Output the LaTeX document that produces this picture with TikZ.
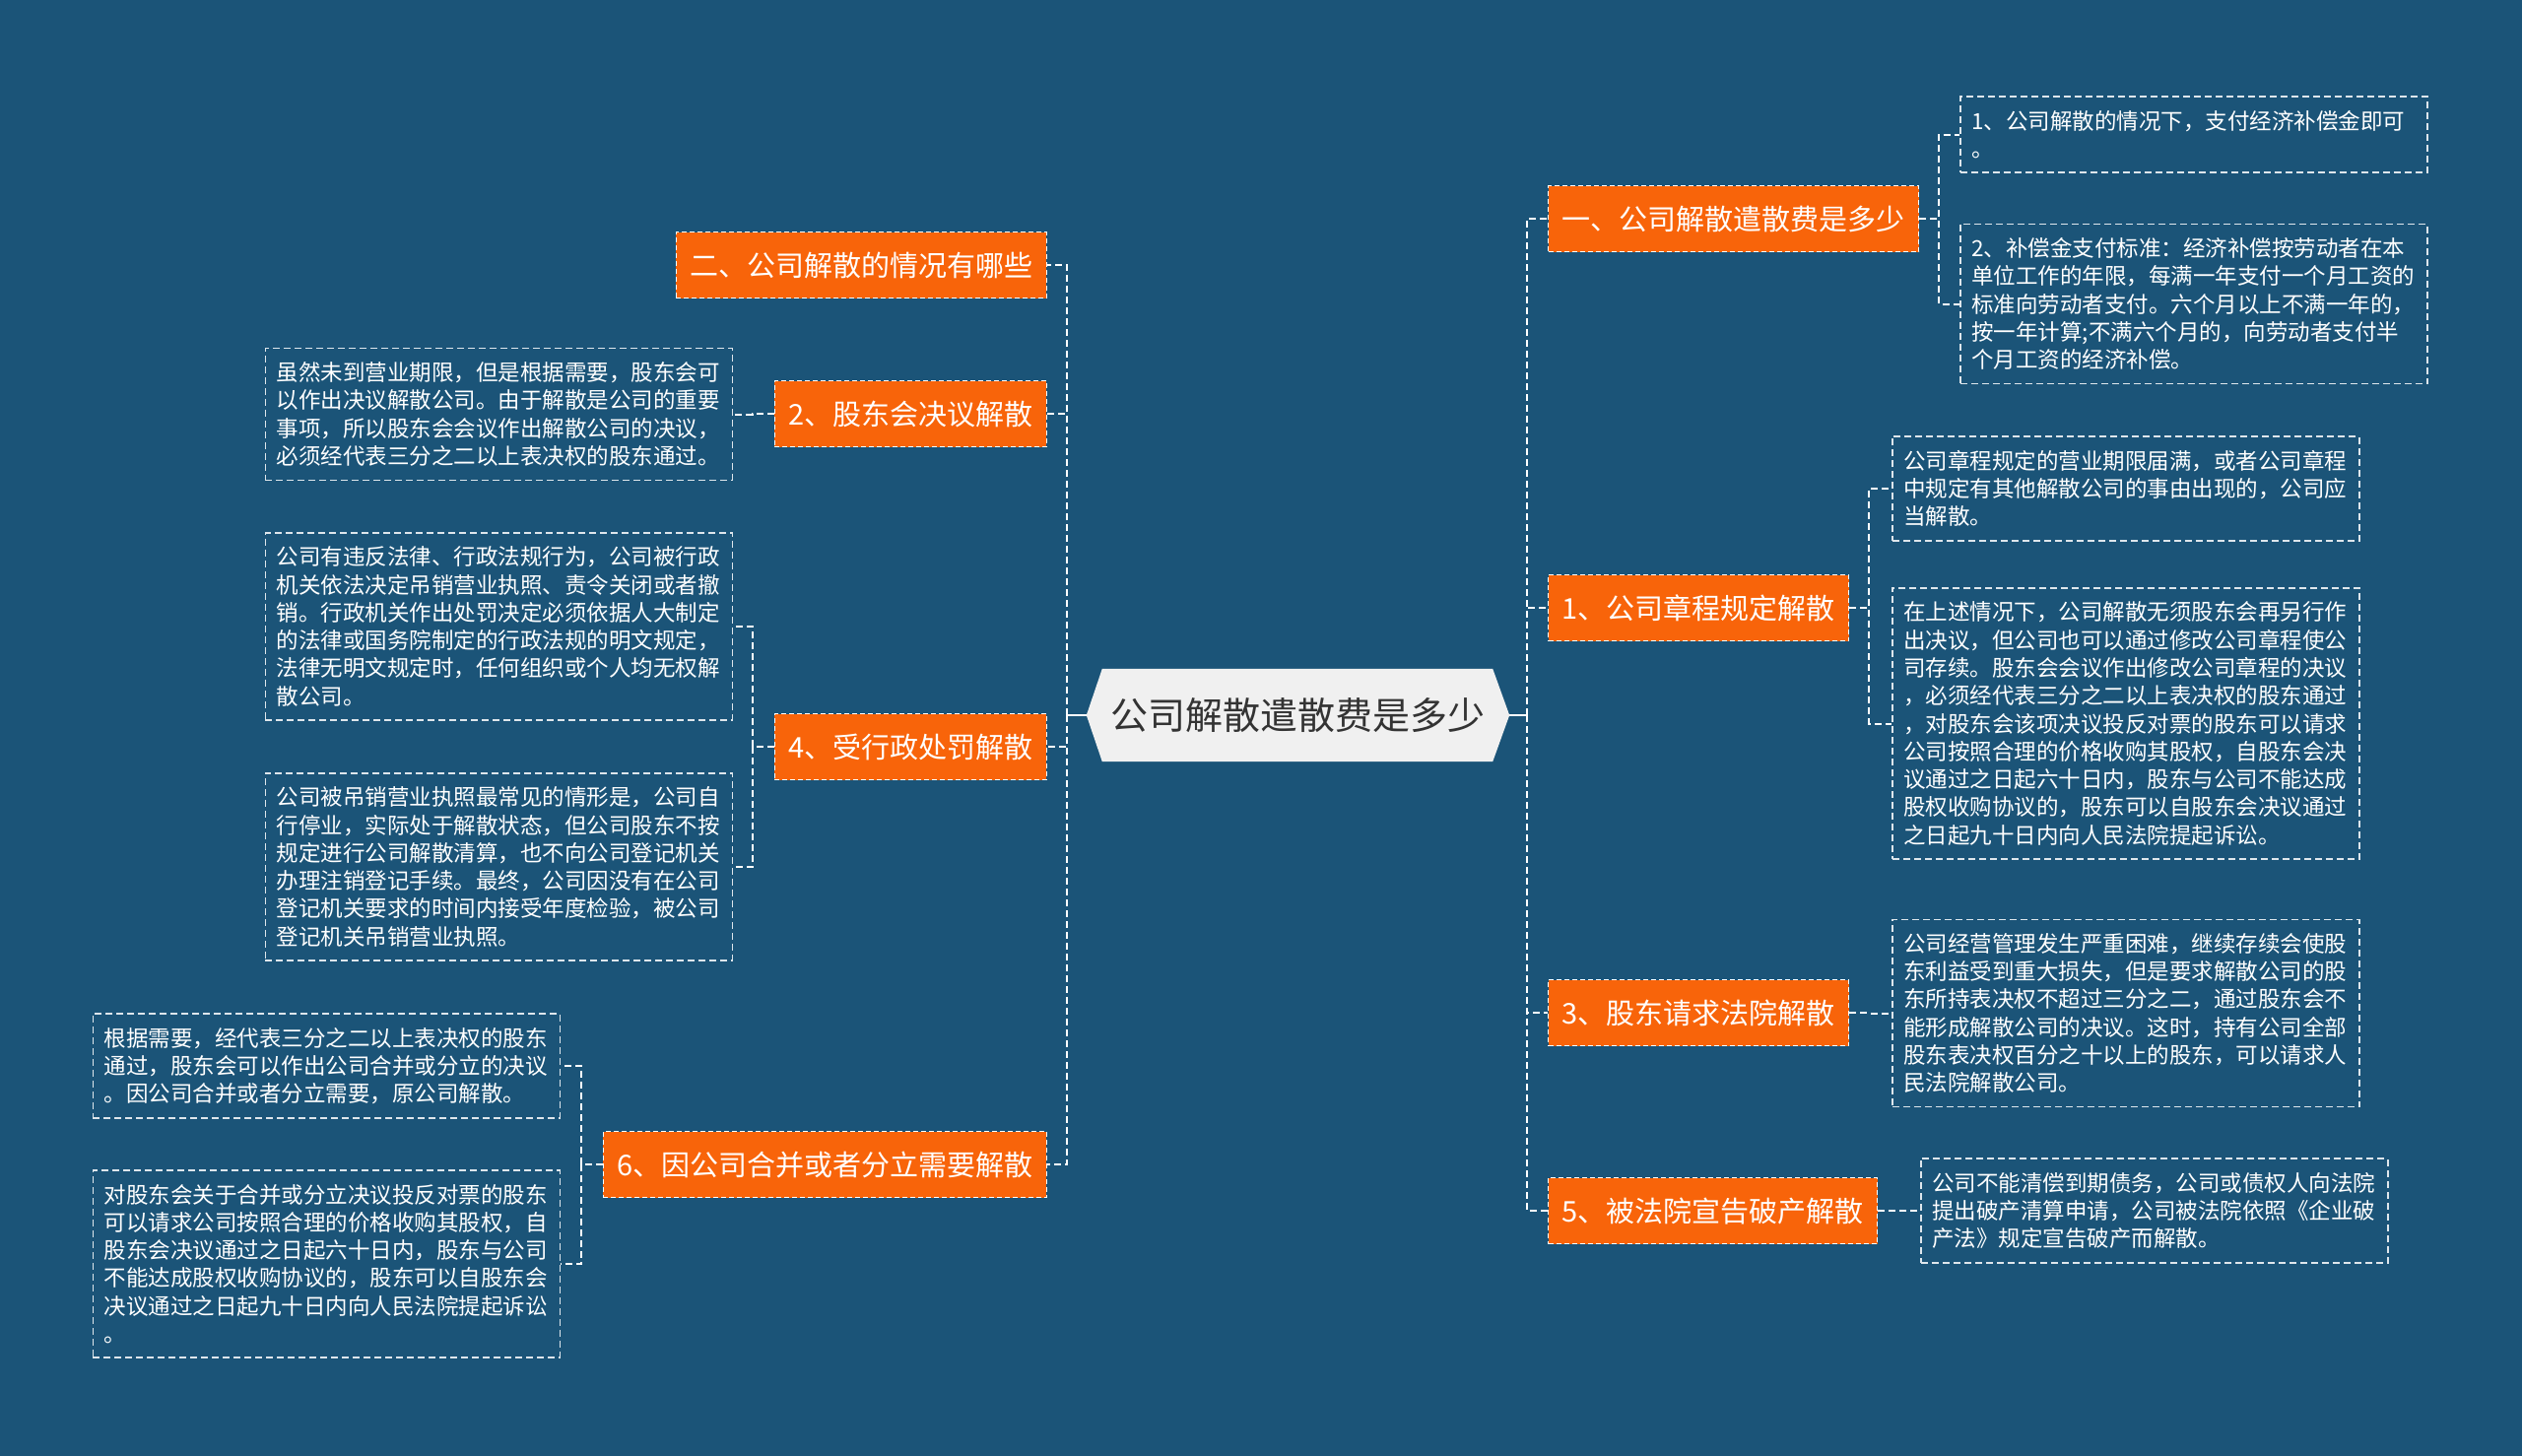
\documentclass[tikz,border=0pt]{standalone}
\usepackage{fontspec}
\setmainfont{Noto Sans CJK SC}
\usetikzlibrary{backgrounds}
\definecolor{deepsea}{RGB}{27,84,120}
\definecolor{tangerine}{RGB}{248,100,10}
\definecolor{hubgrey}{RGB}{240,240,240}
\definecolor{inkgrey}{RGB}{51,51,51}
\definecolor{chalk}{RGB}{222,230,236}

\begin{document}
\begin{tikzpicture}[x=1pt,y=-1pt,
  hub/.style={text=inkgrey,font=\fontsize{38}{44}\selectfont,minimum width=396pt,minimum height=94pt,inner sep=0pt},
  topic/.style={fill=tangerine,draw=white,dash pattern=on 5pt off 3pt,line width=1.2pt,text=white,
    font=\fontsize{29}{34}\selectfont,minimum height=67pt,inner xsep=14pt,inner ysep=0pt},
  leaf/.style={draw=chalk,dash pattern=on 7pt off 4pt,line width=1.5pt,text=white,
    font=\fontsize{22.5}{28.3}\selectfont,align=left,text width=451pt,inner xsep=11.5pt,inner ysep=14pt},
  link/.style={draw=white,line width=2pt,dash pattern=on 7pt off 4pt},
  stub/.style={draw=white,line width=2.5pt}]
  \useasboundingbox (0,0) rectangle (2560,1478);

  % centre
  \node[hub] (hub) at (1317,726) {公司解散遣散费是多少};
  \coordinate (hubE) at ([xshift=17pt]hub.east);
  \coordinate (hubW) at ([xshift=-16pt]hub.west);

  % right topics
  \node[topic,anchor=west] (tA) at (1571,222) {一、公司解散遣散费是多少};
  \node[topic,anchor=west] (t1) at (1571,617) {1、公司章程规定解散};
  \node[topic,anchor=west] (t3) at (1571,1028) {3、股东请求法院解散};
  \node[topic,anchor=west] (t5) at (1571,1229) {5、被法院宣告破产解散};

  % left topics
  \node[topic,anchor=east] (tB) at (1063,269) {二、公司解散的情况有哪些};
  \node[topic,anchor=east] (t2) at (1063,420) {2、股东会决议解散};
  \node[topic,anchor=east] (t4) at (1063,758) {4、受行政处罚解散};
  \node[topic,anchor=east] (t6) at (1063,1182) {6、因公司合并或者分立需要解散};

  % right leaves
  \node[leaf,anchor=west] (la) at (1989,136.5) {1、公司解散的情况下，支付经济补偿金即可\\。};
  \node[leaf,anchor=west] (lb) at (1989,308.5) {2、补偿金支付标准：经济补偿按劳动者在本\\单位工作的年限，每满一年支付一个月工资的\\标准向劳动者支付。六个月以上不满一年的，\\按一年计算;不满六个月的，向劳动者支付半\\个月工资的经济补偿。};
  \node[leaf,anchor=west] (lc) at (1920,496) {公司章程规定的营业期限届满，或者公司章程\\中规定有其他解散公司的事由出现的，公司应\\当解散。};
  \node[leaf,anchor=west] (ld) at (1920,734.5) {在上述情况下，公司解散无须股东会再另行作\\出决议，但公司也可以通过修改公司章程使公\\司存续。股东会会议作出修改公司章程的决议\\，必须经代表三分之二以上表决权的股东通过\\，对股东会该项决议投反对票的股东可以请求\\公司按照合理的价格收购其股权，自股东会决\\议通过之日起六十日内，股东与公司不能达成\\股权收购协议的，股东可以自股东会决议通过\\之日起九十日内向人民法院提起诉讼。};
  \node[leaf,anchor=west] (le) at (1920,1028.5) {公司经营管理发生严重困难，继续存续会使股\\东利益受到重大损失，但是要求解散公司的股\\东所持表决权不超过三分之二，通过股东会不\\能形成解散公司的决议。这时，持有公司全部\\股东表决权百分之十以上的股东，可以请求人\\民法院解散公司。};
  \node[leaf,anchor=west] (lf) at (1949,1229) {公司不能清偿到期债务，公司或债权人向法院\\提出破产清算申请，公司被法院依照《企业破\\产法》规定宣告破产而解散。};

  % left leaves
  \node[leaf,anchor=east] (lg) at (744,420.5) {虽然未到营业期限，但是根据需要，股东会可\\以作出决议解散公司。由于解散是公司的重要\\事项，所以股东会会议作出解散公司的决议，\\必须经代表三分之二以上表决权的股东通过。};
  \node[leaf,anchor=east] (lh) at (744,636) {公司有违反法律、行政法规行为，公司被行政\\机关依法决定吊销营业执照、责令关闭或者撤\\销。行政机关作出处罚决定必须依据人大制定\\的法律或国务院制定的行政法规的明文规定，\\法律无明文规定时，任何组织或个人均无权解\\散公司。};
  \node[leaf,anchor=east] (li) at (744,880) {公司被吊销营业执照最常见的情形是，公司自\\行停业，实际处于解散状态，但公司股东不按\\规定进行公司解散清算，也不向公司登记机关\\办理注销登记手续。最终，公司因没有在公司\\登记机关要求的时间内接受年度检验，被公司\\登记机关吊销营业执照。};
  \node[leaf,anchor=east] (lj) at (569,1082) {根据需要，经代表三分之二以上表决权的股东\\通过，股东会可以作出公司合并或分立的决议\\。因公司合并或者分立需要，原公司解散。};
  \node[leaf,anchor=east] (lk) at (569,1283) {对股东会关于合并或分立决议投反对票的股东\\可以请求公司按照合理的价格收购其股权，自\\股东会决议通过之日起六十日内，股东与公司\\不能达成股权收购协议的，股东可以自股东会\\决议通过之日起九十日内向人民法院提起诉讼\\。};

  \begin{scope}[on background layer]
    \fill[deepsea] (0,0) rectangle (2560,1478);
    % hexagon behind the centre text
    \fill[hubgrey] (hub.north west) -- (hub.north east) -- (hubE) -- (hub.south east)
      -- (hub.south west) -- (hubW) -- cycle;
  \end{scope}

  % connectors
  \draw[stub] (hubE) -- ++(18,0) coordinate (rjoin);
  \draw[stub] (hubW) -- ++(-20,0) coordinate (ljoin);
  \foreach \t in {tA,t1,t3,t5}
    \draw[link] (rjoin) |- (\t.west);
  \foreach \t in {tB,t2,t4,t6}
    \draw[link] (ljoin) |- (\t.east);
  \foreach \p/\c in {tA/la,tA/lb,t1/lc,t1/ld,t3/le,t5/lf}
    \draw[link] (\p.east) -- ++(20,0) |- (\c.west);
  \foreach \p/\c in {t2/lg,t4/lh,t4/li,t6/lj,t6/lk}
    \draw[link] (\p.west) -- ++(-22,0) |- (\c.east);
\end{tikzpicture}
\end{document}
